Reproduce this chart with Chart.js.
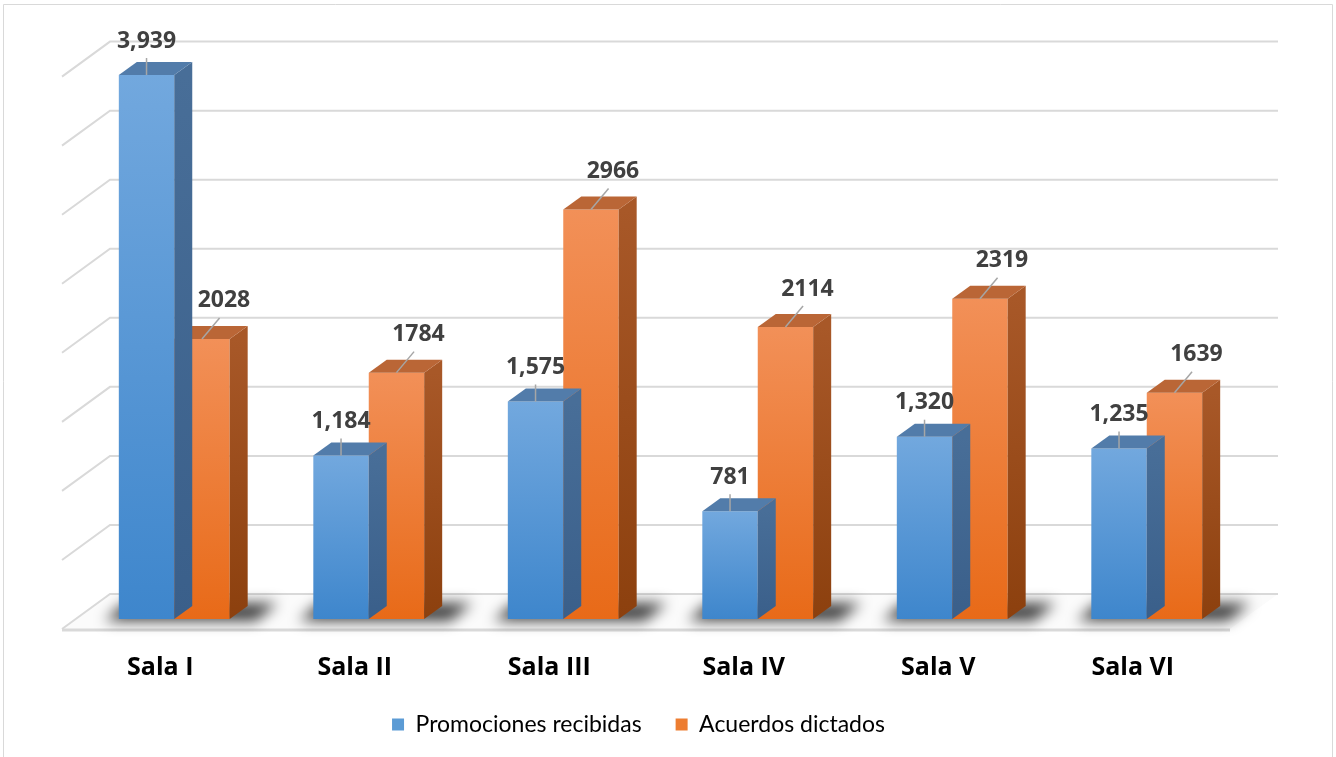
<!DOCTYPE html>
<html><head><meta charset="utf-8">
<script src="https://cdn.jsdelivr.net/npm/chart.js@4.4.0/dist/chart.umd.min.js"></script>
<style>html,body{margin:0;padding:0;background:#fff;}canvas{display:block;}</style>
</head><body>
<canvas id="c" width="1336" height="757"></canvas>
<script>
// ---- data ----
const categories = ['Sala I', 'Sala II', 'Sala III', 'Sala IV', 'Sala V', 'Sala VI'];
const seriesNames = ['Promociones recibidas', 'Acuerdos dictados'];
const promociones = [3939, 1184, 1575, 781, 1320, 1235];
const acuerdos = [2028, 1784, 2966, 2114, 2319, 1639];
const yTicks = [0, 500, 1000, 1500, 2000, 2500, 3000, 3500, 4000];

// ---- style ----
const BAR_DX = 18, BAR_DY = 13;      // bar depth
const WALL_DY = 25;                  // bar base -> back wall
const FLOOR_DX = 48, FLOOR_DY = 35;  // floor depth
const GRID = '#d9d9d9';
const LABEL_FONT = 'bold 23px "Open Sans", Lato, sans-serif';
const STYLE = [
  {front: ['rgb(114,168,222)', 'rgb(62,134,204)'], side: ['rgb(72,110,152)', 'rgb(58,95,138)'], top: 'rgb(82,124,170)', legend: '#5b9bd5', comma: true, ldx: 0, ldy: -34},
  {front: ['rgb(242,144,88)', 'rgb(232,106,24)'], side: ['rgb(168,88,40)', 'rgb(140,64,14)'], top: 'rgb(186,102,54)', legend: '#ed7d31', comma: false, ldx: 22, ldy: -38}
];

Chart.defaults.font.family = 'Lato, "Open Sans", sans-serif';

function frontGradient(idx) {
  return (ctx) => {
    const chart = ctx.chart;
    const ys = chart.scales.y;
    if (!ys || ctx.raw === undefined) return STYLE[idx].legend;
    const top = ys.getPixelForValue(ctx.raw), base = ys.getPixelForValue(0);
    const g = chart.ctx.createLinearGradient(0, top, 0, base);
    g.addColorStop(0, STYLE[idx].front[0]);
    g.addColorStop(1, STYLE[idx].front[1]);
    return g;
  };
}

const scene3d = {
  id: 'scene3d',
  afterLayout(chart) {
    const lg = chart.legend;
    if (lg) { lg.left -= 22; lg.right -= 22; lg.top -= 8; lg.bottom -= 8; }
  },
  beforeDraw(chart) {
    const c = chart.ctx;
    c.save();
    c.strokeStyle = '#d9d9d9'; c.lineWidth = 1;
    c.beginPath();
    c.moveTo(3.5, 760); c.lineTo(3.5, 4.5); c.lineTo(1332.5, 4.5); c.lineTo(1332.5, 760);
    c.stroke();
    c.restore();
  },
  beforeDatasetsDraw(chart) {
    const c = chart.ctx, ys = chart.scales.y, ca = chart.chartArea;
    const backL = ca.left + 33, backR = ca.right + 34;
    const frontL = backL - FLOOR_DX, frontR = backR - FLOOR_DX;
    const floorBack = ys.getPixelForValue(0) - WALL_DY;
    c.save();
    // floor
    c.fillStyle = '#fbfbfb';
    c.beginPath();
    c.moveTo(frontL, floorBack + FLOOR_DY); c.lineTo(backL, floorBack);
    c.lineTo(backR, floorBack); c.lineTo(frontR, floorBack + FLOOR_DY); c.closePath();
    c.fill();
    c.strokeStyle = GRID; c.lineWidth = 3;
    c.beginPath(); c.moveTo(frontL, floorBack + FLOOR_DY + 1); c.lineTo(frontR, floorBack + FLOOR_DY + 1); c.stroke();
    c.lineWidth = 2;
    // grid lines on back wall + left side
    yTicks.forEach(v => {
      const y = ys.getPixelForValue(v) - WALL_DY;
      c.beginPath();
      c.moveTo(frontL, y + FLOOR_DY); c.lineTo(backL, y); c.lineTo(backR, y);
      c.stroke();
    });
    // shadows
    const metas = [chart.getDatasetMeta(0), chart.getDatasetMeta(1)];
    c.filter = 'blur(7px)';
    c.fillStyle = 'rgba(0,0,0,0.75)';
    categories.forEach((_, i) => {
      const a = metas[0].data[i], b = metas[1].data[i];
      const left = a.x - a.width / 2, right = b.x + b.width / 2;
      const base = a.base;
      c.beginPath();
      c.moveTo(left - 14, base + 2);
      c.lineTo(right + 26, base + 2);
      c.lineTo(right + 48, base - 16);
      c.lineTo(left + 6, base - 16);
      c.closePath();
      c.fill();
    });
    c.filter = 'none';
    c.restore();
  },
  afterDatasetDraw(chart, args) {
    const idx = args.index, st = STYLE[idx];
    const c = chart.ctx;
    c.save();
    args.meta.data.forEach(el => {
      const left = el.x - el.width / 2, right = el.x + el.width / 2;
      const top = el.y, base = el.base;
      const g = c.createLinearGradient(0, top, 0, base);
      g.addColorStop(0, st.side[0]); g.addColorStop(1, st.side[1]);
      c.fillStyle = g;
      c.beginPath();
      c.moveTo(right, top); c.lineTo(right + BAR_DX, top - BAR_DY);
      c.lineTo(right + BAR_DX, base - BAR_DY); c.lineTo(right, base); c.closePath();
      c.fill();
      c.fillStyle = st.top;
      c.beginPath();
      c.moveTo(left, top); c.lineTo(left + BAR_DX, top - BAR_DY);
      c.lineTo(right + BAR_DX, top - BAR_DY); c.lineTo(right, top); c.closePath();
      c.fill();
    });
    c.restore();
  },
  afterDatasetsDraw(chart) {
    const c = chart.ctx;
    c.save();
    c.font = LABEL_FONT;
    c.textAlign = 'center'; c.textBaseline = 'middle';
    chart.data.datasets.forEach((ds, di) => {
      const st = STYLE[di];
      chart.getDatasetMeta(di).data.forEach((el, i) => {
        const v = ds.data[i];
        const txt = st.comma ? v.toLocaleString('en-US') : String(v);
        const lx = el.x + st.ldx, ly = el.y + st.ldy;
        c.strokeStyle = '#a6a6a6'; c.lineWidth = 1.5;
        c.beginPath(); c.moveTo(el.x, el.y); c.lineTo(el.x + st.ldx * 0.8, ly + 17); c.stroke();
        c.fillStyle = '#404040';
        c.fillText(txt, lx, ly);
      });
    });
    c.restore();
  }
};

new Chart(document.getElementById('c'), {
  type: 'bar',
  data: {
    labels: categories,
    datasets: [
      {label: seriesNames[0], data: promociones, backgroundColor: frontGradient(0), borderWidth: 0},
      {label: seriesNames[1], data: acuerdos, backgroundColor: frontGradient(1), borderWidth: 0}
    ]
  },
  options: {
    responsive: false,
    animation: false,
    devicePixelRatio: 1,
    categoryPercentage: 0.57,
    barPercentage: 1,
    layout: {padding: {left: 77, right: 92, top: 66.6, bottom: 3}},
    scales: {
      y: {display: false, min: 0, max: yTicks[yTicks.length - 1]},
      x: {
        grid: {display: false, drawTicks: false},
        border: {display: false},
        ticks: {color: '#000', font: {family: '"Open Sans", Lato, sans-serif', size: 25, weight: 'bold'}, padding: 34, labelOffset: -14},
        afterFit: (s) => { s.height = 68; }
      }
    },
    plugins: {
      legend: {
        position: 'bottom',
        labels: {
          boxWidth: 12, boxHeight: 12, padding: 34, color: '#1a1a1a',
          font: {size: 23},
          generateLabels: (chart) => chart.data.datasets.map((ds, i) => ({
            text: ds.label, fillStyle: STYLE[i].legend, strokeStyle: STYLE[i].legend,
            lineWidth: 0, hidden: false, datasetIndex: i
          }))
        }
      },
      tooltip: {enabled: false}
    }
  },
  plugins: [scene3d]
});
</script>
</body></html>
